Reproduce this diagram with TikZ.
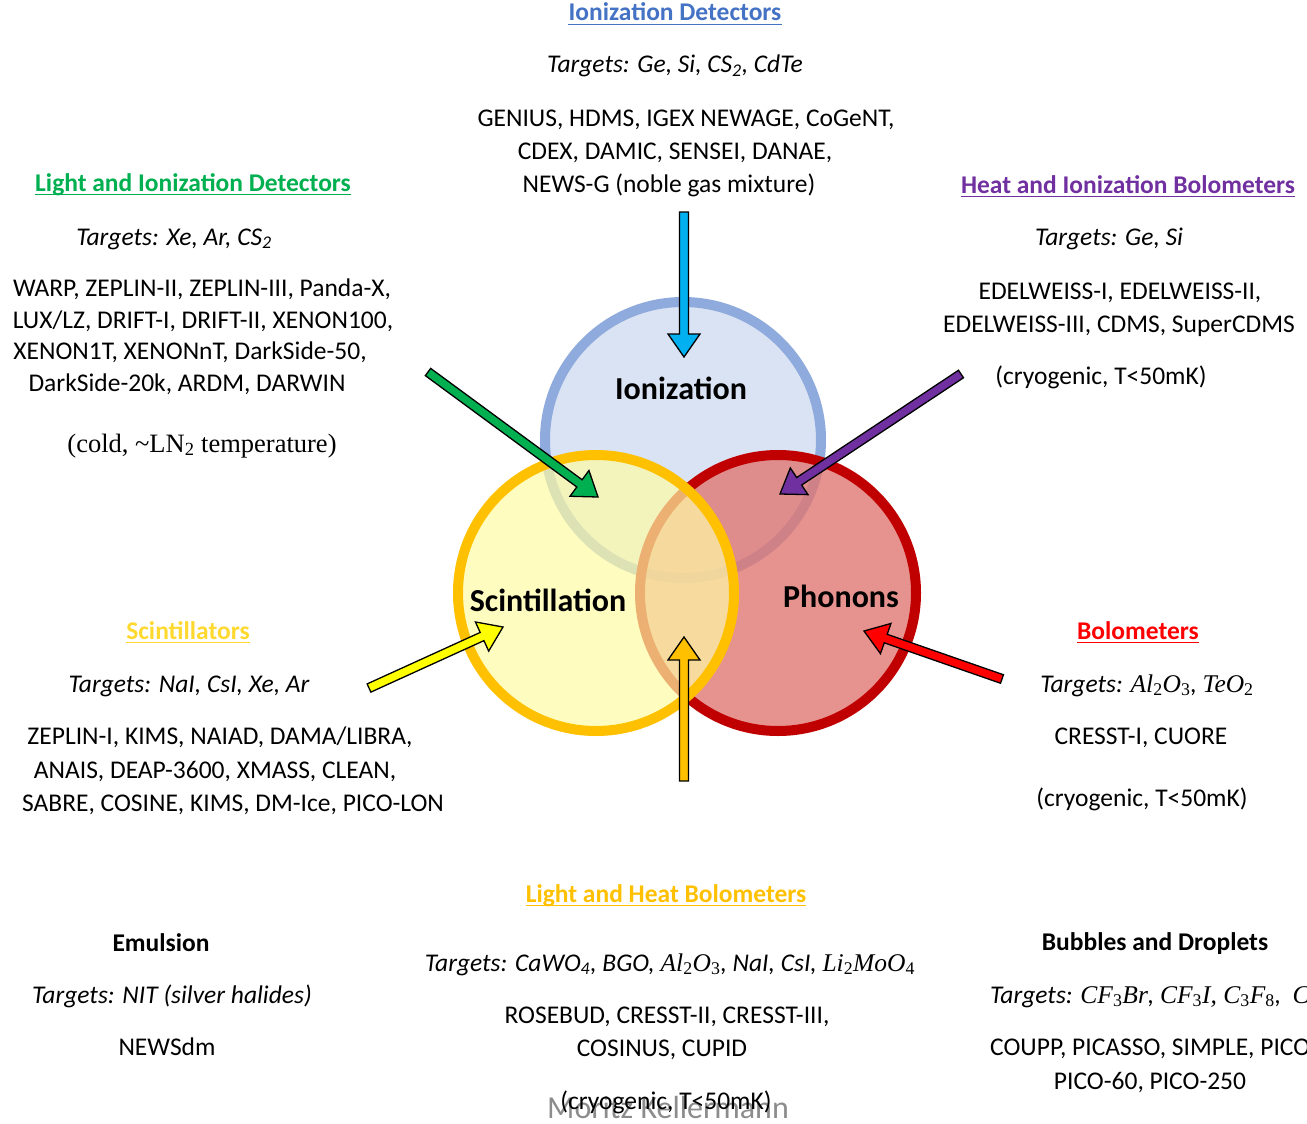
\documentclass[tikz,border=0pt]{standalone}
\usepackage{fontspec}
\setmainfont{Carlito}
\newfontfamily\cmb{Liberation Serif}
\usetikzlibrary{calc}
\definecolor{cIonT}{HTML}{4472C4}
\definecolor{cGreen}{HTML}{00B050}
\definecolor{cPurple}{HTML}{7030A0}
\definecolor{cScin}{HTML}{FFD92F}
\definecolor{cRedT}{HTML}{FF0000}
\definecolor{cOrange}{HTML}{FFC000}
\definecolor{cCyan}{HTML}{00B0F0}
\definecolor{cYel}{HTML}{FFFF00}
\definecolor{blueFill}{HTML}{DAE3F3}
\definecolor{blueLine}{HTML}{8FAADC}
\definecolor{redLine}{HTML}{C00000}
\definecolor{redFill}{RGB}{224,119,115}
\definecolor{yelFill}{RGB}{255,251,165}
\definecolor{wmGray}{HTML}{8C8C8C}
\newcommand{\fs}{\fontsize{25.5}{33}\selectfont}
\newcommand{\mt}[1]{{\cmb\itshape #1}}
\newcommand{\subd}[1]{\textsubscript{\upshape #1}}
\newcommand{\blockarr}[3]{%
  \coordinate (#1-b) at ($(#2)!23pt!(#1)$);
  \filldraw[fill=#3, draw=black, line width=1.3pt, line join=miter]
    ($(#1)!4.5pt!90:(#2)$) -- ($(#1-b)!4.5pt!90:(#2)$) -- ($(#1-b)!16pt!90:(#2)$)
    -- (#2) -- ($(#1-b)!16pt!-90:(#2)$) -- ($(#1-b)!4.5pt!-90:(#2)$)
    -- ($(#1)!4.5pt!-90:(#2)$) -- cycle;}
\newcommand{\uline}[2]{%
  \draw[#2, line width=1.8pt] ([yshift=-3.5pt]#1.base west) -- ([yshift=-3.5pt]#1.base east);}
\tikzset{
  tx/.style={anchor=base, inner sep=0pt, font=\fs},
  tl/.style={anchor=base west, inner sep=0pt, font=\fs},
  ttl/.style={anchor=base, inner sep=0pt, font=\fs\bfseries},
  it/.style={anchor=base, inner sep=0pt, font=\fs\itshape},
  itl/.style={anchor=base west, inner sep=0pt, font=\fs\itshape},
  big/.style={anchor=base, inner sep=0pt, font=\fontsize{32}{36}\selectfont\bfseries},
  ring/.style={circle, inner sep=0pt, minimum size=276pt, line width=10pt},
}
\begin{document}
\begin{tikzpicture}[x=1pt, y=-1pt]
\useasboundingbox (0,0) rectangle (1307,1124);
\clip (0,0) rectangle (1307,1124);
% circles
\node[ring, fill=blueFill, draw=blueLine] (ion) at (683,440) {};
\node[ring, fill=redFill, fill opacity=0.8, draw=redLine, draw opacity=1] (pho) at (778,593) {};
\node[ring, fill=yelFill, fill opacity=0.7, draw=cOrange, draw opacity=1] (sci) at (596,593) {};
% circle labels
\node[big] (ionL) at (681,399) {Ionization};
\node[big] (sciL) at (548,611) {Scintillation};
\node[big] (phoL) at (841,607) {Phonons};
% watermark
\node[anchor=base, inner sep=0pt, font=\fontsize{32}{36}\selectfont, text=wmGray] (wm) at (668,1118) {Moritz Kellermann};
% Top block
\node[ttl, text=cIonT] (t1) at (675,21) {Ionization Detectors};
\uline{t1}{cIonT}
\node[it] (t2) at (675,73) {Targets: Ge, Si, CS\textsubscript{2}, CdTe};
\node[tx] (t3) at (686,126) {GENIUS, HDMS, IGEX NEWAGE, CoGeNT,};
\node[tx] (t4) at (675,159) {CDEX, DAMIC, SENSEI, DANAE,};
\node[tx] (t5) at (669,192) {NEWS-G (noble gas mixture)};
% Left block
\node[ttl, text=cGreen] (l1) at (193,191) {Light and Ionization Detectors};
\uline{l1}{cGreen}
\node[it] (l2) at (174,245) {Targets: Xe, Ar, CS\textsubscript{2}};
\node[tx] (l3) at (202,296) {WARP, ZEPLIN-II, ZEPLIN-III, Panda-X,};
\node[tx] (l4) at (203,328) {LUX/LZ, DRIFT-I, DRIFT-II, XENON100,};
\node[tx] (l5) at (190,359) {XENON1T, XENONnT, DarkSide-50,};
\node[tx] (l6) at (187,391) {DarkSide-20k, ARDM, DARWIN};
\node[anchor=base, inner sep=0pt, font=\fontsize{26.5}{33}\selectfont\cmb] (l7) at (202,452) {(cold, \char"007E LN\subd{2} temperature)};
% Right block
\node[ttl, text=cPurple] (r1) at (1128,193) {Heat and Ionization Bolometers};
\uline{r1}{cPurple}
\node[it] (r2) at (1109,245) {Targets: Ge, Si};
\node[tx] (r3) at (1120,299) {EDELWEISS-I, EDELWEISS-II,};
\node[tx] (r4) at (1119,332) {EDELWEISS-III, CDMS, SuperCDMS};
\node[tx] (r5) at (1101,384) {(cryogenic, T<50mK)};
% Scintillators
\node[ttl, text=cScin] (s1) at (188,639) {Scintillators};
\uline{s1}{cScin}
\node[it] (s2) at (189,692) {Targets: NaI, CsI, Xe, Ar};
\node[tx] (s3) at (220,744) {ZEPLIN-I, KIMS, NAIAD, DAMA/LIBRA,};
\node[tx] (s4) at (215,778) {ANAIS, DEAP-3600, XMASS, CLEAN,};
\node[tx] (s5) at (233,811) {SABRE, COSINE, KIMS, DM-Ice, PICO-LON};
% Bolometers
\node[ttl, text=cRedT] (b1) at (1138,639) {Bolometers};
\uline{b1}{cRedT}
\node[it] (b2) at (1147,692) {Targets: \mt{Al\subd{2}O\subd{3}}, \mt{TeO\subd{2}}};
\node[tx] (b3) at (1141,744) {CRESST-I, CUORE};
\node[tx] (b4) at (1142,806) {(cryogenic, T<50mK)};
% Light and heat bolometers
\node[ttl, text=cOrange] (h1) at (666,902) {Light and Heat Bolometers};
\uline{h1}{cOrange}
\node[it] (h2) at (670,971) {Targets: CaWO\textsubscript{4}, BGO, \mt{Al\subd{2}O\subd{3}}, NaI, CsI, \mt{Li\subd{2}MoO\subd{4}}};
\node[tx] (h3) at (667,1023) {ROSEBUD, CRESST-II, CRESST-III,};
\node[tx] (h4) at (662,1056) {COSINUS, CUPID};
\node[tx] (h5) at (666,1109) {(cryogenic, T<50mK)};
% Emulsion
\node[ttl] (e1) at (161,951) {Emulsion};
\node[it] (e2) at (172,1003) {Targets: NIT (silver halides)};
\node[tx] (e3) at (167,1055) {NEWSdm};
% Bubbles
\node[ttl] (u1) at (1155,950) {Bubbles and Droplets};
\node[itl] (u2) at (990,1003) {Targets: \mt{CF\subd{3}Br}, \mt{CF\subd{3}I, C\subd{3}F\subd{8}},\ \ \mt{C\subd{4}F\subd{10}}};
\node[tl] (u3) at (990,1055) {COUPP, PICASSO, SIMPLE, PICO-2L,};
\node[tx] (u4) at (1150,1089) {PICO-60, PICO-250};
% arrows
\coordinate (aT) at (684,212);  \coordinate (aH) at (684,357);
\coordinate (gT) at (428,372);  \coordinate (gH) at (598,497);
\coordinate (pT) at (961,374);  \coordinate (pH) at (780,494);
\coordinate (yT) at (369,688);  \coordinate (yH) at (503,627);
\coordinate (oT) at (684,781);  \coordinate (oH) at (684,637);
\coordinate (rT) at (1002,679); \coordinate (rH) at (864,631);
\blockarr{aT}{aH}{cCyan}
\blockarr{gT}{gH}{cGreen}
\blockarr{pT}{pH}{cPurple}
\blockarr{yT}{yH}{cYel}
\blockarr{oT}{oH}{cOrange}
\blockarr{rT}{rH}{cRedT}
\end{tikzpicture}
\end{document}
